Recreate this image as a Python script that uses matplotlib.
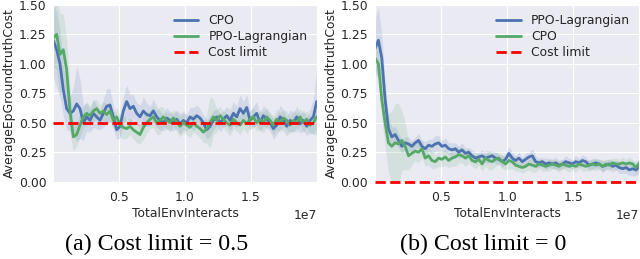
import numpy as np
import matplotlib.pyplot as plt
import seaborn as sns

# valores (80 pasos de 0 a 2e7)
steps = np.linspace(0, 2e7, 80)

# (a) cost limit = 0.5
cpo_a = [1.20, 1.12, 1.00, 0.78, 0.62, 0.58, 0.60, 0.66, 0.62, 0.50,
         0.55, 0.52, 0.58, 0.55, 0.52, 0.58, 0.64, 0.65, 0.55, 0.44,
         0.47, 0.60, 0.68, 0.62, 0.64, 0.58, 0.55, 0.60, 0.57, 0.56,
         0.60, 0.55, 0.52, 0.50, 0.54, 0.52, 0.50, 0.53, 0.49, 0.52,
         0.50, 0.55, 0.53, 0.56, 0.54, 0.50, 0.44, 0.47, 0.52, 0.55,
         0.50, 0.53, 0.56, 0.52, 0.58, 0.55, 0.62, 0.58, 0.63, 0.52,
         0.55, 0.58, 0.50, 0.56, 0.53, 0.50, 0.45, 0.48, 0.55, 0.52,
         0.47, 0.52, 0.50, 0.55, 0.49, 0.52, 0.47, 0.52, 0.55, 0.68]
cpo_a_std = [0.30, 0.32, 0.28, 0.22, 0.18, 0.15, 0.20, 0.32, 0.25, 0.15,
             0.12, 0.10, 0.12, 0.10, 0.08, 0.12, 0.15, 0.14, 0.10, 0.08,
             0.10, 0.12, 0.14, 0.12, 0.10, 0.09, 0.10, 0.12, 0.10, 0.08,
             0.10, 0.09, 0.08, 0.07, 0.09, 0.08, 0.07, 0.08, 0.09, 0.08,
             0.07, 0.08, 0.10, 0.09, 0.08, 0.07, 0.08, 0.09, 0.08, 0.07,
             0.08, 0.07, 0.08, 0.09, 0.10, 0.09, 0.12, 0.10, 0.11, 0.08,
             0.09, 0.10, 0.08, 0.09, 0.08, 0.07, 0.09, 0.08, 0.10, 0.09,
             0.08, 0.09, 0.08, 0.09, 0.08, 0.09, 0.08, 0.10, 0.15, 0.28]
ppo_a = [1.22, 1.25, 1.08, 1.12, 0.95, 0.60, 0.38, 0.40, 0.48, 0.55,
         0.58, 0.56, 0.60, 0.62, 0.58, 0.60, 0.57, 0.60, 0.52, 0.55,
         0.48, 0.46, 0.45, 0.47, 0.44, 0.42, 0.40, 0.46, 0.50, 0.53,
         0.55, 0.50, 0.52, 0.55, 0.52, 0.50, 0.54, 0.51, 0.47, 0.50,
         0.48, 0.46, 0.50, 0.47, 0.45, 0.42, 0.45, 0.50, 0.55, 0.52,
         0.56, 0.53, 0.50, 0.48, 0.53, 0.50, 0.48, 0.52, 0.49, 0.53,
         0.55, 0.50, 0.53, 0.50, 0.55, 0.52, 0.48, 0.53, 0.50, 0.54,
         0.52, 0.48, 0.52, 0.50, 0.55, 0.50, 0.53, 0.48, 0.50, 0.55]
ppo_a_std = [0.25, 0.30, 0.35, 0.30, 0.25, 0.20, 0.12, 0.10, 0.10, 0.09,
             0.10, 0.08, 0.09, 0.08, 0.07, 0.08, 0.09, 0.08, 0.07, 0.08,
             0.09, 0.10, 0.08, 0.07, 0.08, 0.09, 0.08, 0.10, 0.09, 0.08,
             0.09, 0.10, 0.12, 0.08, 0.07, 0.08, 0.07, 0.08, 0.09, 0.08,
             0.08, 0.09, 0.08, 0.07, 0.08, 0.09, 0.12, 0.22, 0.15, 0.10,
             0.08, 0.07, 0.08, 0.09, 0.08, 0.07, 0.08, 0.07, 0.08, 0.07,
             0.08, 0.07, 0.08, 0.09, 0.08, 0.07, 0.08, 0.09, 0.08, 0.07,
             0.08, 0.07, 0.09, 0.08, 0.07, 0.08, 0.07, 0.08, 0.09, 0.10]

# (b) cost limit = 0
ppo_b = [1.13, 1.20, 1.05, 0.70, 0.45, 0.38, 0.40, 0.35, 0.30, 0.33,
         0.32, 0.30, 0.33, 0.35, 0.30, 0.28, 0.31, 0.30, 0.32, 0.33,
         0.30, 0.31, 0.28, 0.27, 0.28, 0.25, 0.27, 0.24, 0.25, 0.22,
         0.20, 0.21, 0.22, 0.20, 0.21, 0.22, 0.20, 0.19, 0.17, 0.19,
         0.24, 0.20, 0.18, 0.20, 0.17, 0.19, 0.21, 0.22, 0.17, 0.16,
         0.17, 0.15, 0.16, 0.15, 0.16, 0.14, 0.15, 0.17, 0.16, 0.15,
         0.17, 0.16, 0.18, 0.17, 0.14, 0.15, 0.16, 0.15, 0.13, 0.14,
         0.15, 0.13, 0.14, 0.12, 0.11, 0.12, 0.10, 0.11, 0.10, 0.13]
ppo_b_std = [0.25, 0.28, 0.20, 0.15, 0.10, 0.08, 0.07, 0.06, 0.06, 0.05,
             0.06, 0.05, 0.05, 0.06, 0.05, 0.06, 0.05, 0.06, 0.07, 0.06,
             0.05, 0.06, 0.05, 0.06, 0.05, 0.05, 0.06, 0.05, 0.04, 0.05,
             0.05, 0.04, 0.05, 0.04, 0.05, 0.04, 0.05, 0.04, 0.05, 0.04,
             0.06, 0.05, 0.04, 0.05, 0.04, 0.05, 0.04, 0.06, 0.05, 0.04,
             0.04, 0.05, 0.04, 0.04, 0.05, 0.04, 0.04, 0.05, 0.04, 0.04,
             0.05, 0.04, 0.05, 0.04, 0.04, 0.05, 0.04, 0.04, 0.05, 0.04,
             0.04, 0.05, 0.04, 0.05, 0.04, 0.05, 0.05, 0.06, 0.05, 0.06]
cpo_b = [1.05, 1.00, 0.70, 0.50, 0.33, 0.30, 0.33, 0.32, 0.35, 0.30,
         0.22, 0.24, 0.26, 0.25, 0.28, 0.20, 0.22, 0.18, 0.17, 0.20,
         0.19, 0.21, 0.18, 0.20, 0.21, 0.23, 0.22, 0.20, 0.22, 0.18,
         0.17, 0.19, 0.15, 0.20, 0.18, 0.17, 0.19, 0.20, 0.17, 0.15,
         0.18, 0.17, 0.14, 0.13, 0.12, 0.13, 0.15, 0.14, 0.13, 0.15,
         0.14, 0.13, 0.14, 0.15, 0.14, 0.13, 0.15, 0.14, 0.13, 0.14,
         0.13, 0.15, 0.14, 0.13, 0.14, 0.15, 0.14, 0.15, 0.13, 0.15,
         0.14, 0.16, 0.15, 0.15, 0.16, 0.15, 0.16, 0.15, 0.12, 0.16]
cpo_b_std = [0.10, 0.12, 0.15, 0.20, 0.25, 0.30, 0.33, 0.35, 0.25, 0.20,
             0.12, 0.10, 0.08, 0.09, 0.08, 0.07, 0.08, 0.07, 0.06, 0.07,
             0.06, 0.07, 0.06, 0.07, 0.08, 0.07, 0.06, 0.07, 0.06, 0.05,
             0.06, 0.05, 0.06, 0.07, 0.08, 0.07, 0.06, 0.05, 0.06, 0.05,
             0.07, 0.06, 0.05, 0.04, 0.05, 0.04, 0.05, 0.06, 0.05, 0.04,
             0.05, 0.04, 0.05, 0.04, 0.04, 0.05, 0.04, 0.04, 0.05, 0.04,
             0.05, 0.04, 0.05, 0.04, 0.05, 0.04, 0.05, 0.04, 0.05, 0.04,
             0.05, 0.04, 0.05, 0.04, 0.05, 0.04, 0.05, 0.04, 0.05, 0.05]

BLUE = '#4c72b0'
GREEN = '#55a868'

sns.set_style('darkgrid')
plt.rcParams['font.family'] = ['DejaVu Sans']
plt.rcParams['font.size'] = 8.9


def draw_curve(ax, mean, std, color, label):
    mean = np.array(mean)
    std = np.array(std)
    ax.fill_between(steps, mean - std, mean + std, color=color, alpha=0.15, lw=0)
    ax.plot(steps, mean, color=color, lw=2, label=label)


def style_axes(ax, limit):
    ax.axhline(limit, color='r', ls='--', lw=2, label='Cost limit',
               clip_on=False, zorder=4)
    ax.set_xlim(0, 2e7)
    ax.set_ylim(0, 1.5)
    ax.set_xticks([0.5e7, 1.0e7, 1.5e7])
    ax.set_yticks([0, 0.25, 0.5, 0.75, 1.0, 1.25, 1.5])
    ax.set_xlabel('TotalEnvInteracts', labelpad=2)
    ax.set_ylabel('AverageEpGroundtruthCost', labelpad=2)
    ax.tick_params(labelsize=8.9, colors='#262626')
    ax.tick_params(axis='y', pad=1.5)
    ax.legend(loc='upper right', frameon=False, fontsize=8.9,
              labelspacing=0.25, borderaxespad=0.35)


fig = plt.figure(figsize=(6.4, 2.59), dpi=100)
ax1 = fig.add_axes([0.0833, 0.2985, 0.4116, 0.6826])
ax2 = fig.add_axes([0.586, 0.2985, 0.413, 0.6826])

draw_curve(ax1, cpo_a, cpo_a_std, BLUE, 'CPO')
draw_curve(ax1, ppo_a, ppo_a_std, GREEN, 'PPO-Lagrangian')
style_axes(ax1, 0.5)

draw_curve(ax2, ppo_b, ppo_b_std, BLUE, 'PPO-Lagrangian')
draw_curve(ax2, cpo_b, cpo_b_std, GREEN, 'CPO')
style_axes(ax2, 0.0)

fig.text(0.245, 0.055, '(a) Cost limit = 0.5', ha='center', va='center',
         family='Liberation Serif', fontsize=17.3, color='black')
fig.text(0.755, 0.055, '(b) Cost limit = 0', ha='center', va='center',
         family='Liberation Serif', fontsize=17.3, color='black')

fig.savefig('out.png', dpi=100)
